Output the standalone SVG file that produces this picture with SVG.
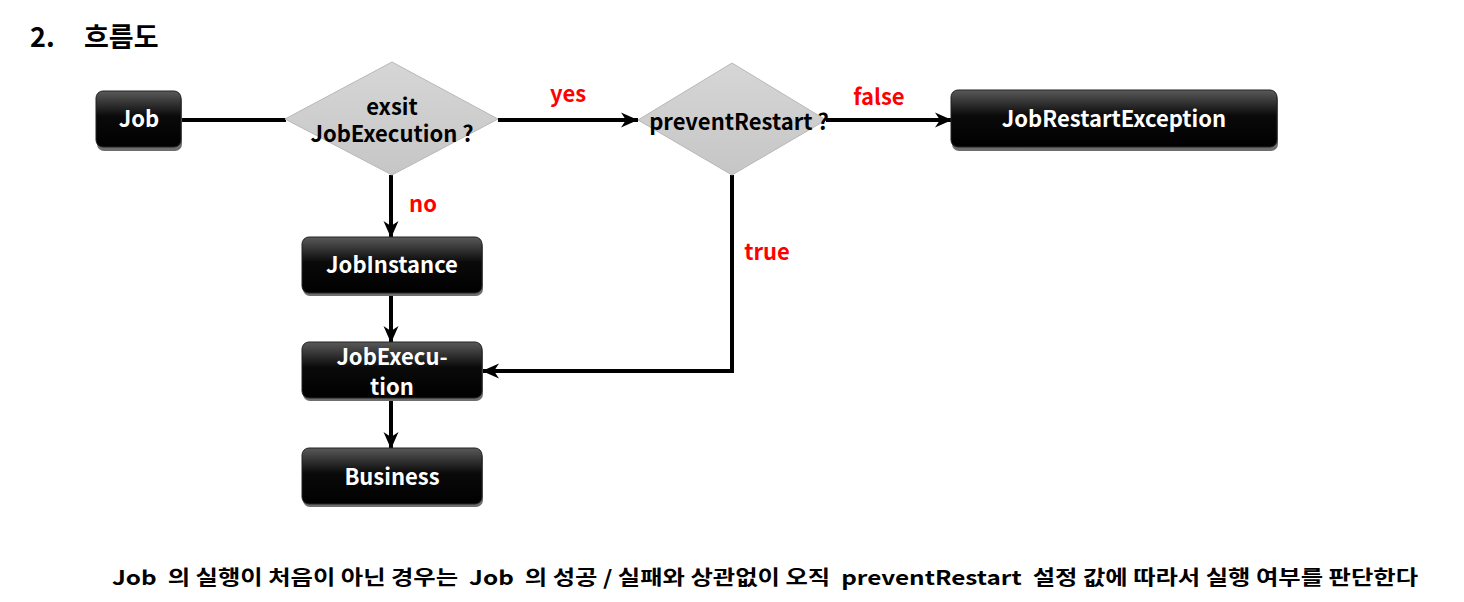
<svg xmlns="http://www.w3.org/2000/svg" width="1464" height="602" viewBox="0 0 1464 602">
<style>
text{font-family:"Noto Sans CJK KR","Noto Sans",sans-serif;font-weight:bold}
.w{fill:#fff;font-size:22px;text-anchor:middle}
.k{fill:#000;font-size:22px;text-anchor:middle}
.r{fill:#f00;font-size:22px;text-anchor:middle}
.box{fill:url(#bg);stroke:#222;stroke-width:1}
.sh{fill:#6e6e6e}
.dia{fill:url(#dg);stroke:#b8b8b8;stroke-width:1}
.ln{fill:none;stroke:#000;stroke-width:4}
</style>
<defs>
<linearGradient id="bg" x1="0" y1="0" x2="0" y2="1">
<stop offset="0" stop-color="#5a5a5a"/>
<stop offset="0.45" stop-color="#0a0a0a"/>
<stop offset="1" stop-color="#000"/>
</linearGradient>
<linearGradient id="dg" x1="0" y1="0" x2="0" y2="1">
<stop offset="0" stop-color="#d6d6d6"/>
<stop offset="1" stop-color="#c6c6c6"/>
</linearGradient>
<marker id="ah" markerUnits="userSpaceOnUse" markerWidth="18" markerHeight="18" viewBox="0 0 18 18" refX="17" refY="9" orient="auto">
<path d="M0,1.5 L17,9 L0,16.5 L5,9 z" fill="#000"/>
</marker>
</defs>

<text x="30" y="47" style="font-size:27px">2.</text>
<text x="84" y="47" style="font-size:27px">흐름도</text>

<g id="connectors">
<line class="ln" x1="181" y1="120" x2="286" y2="120"/>
<line class="ln" x1="498" y1="120" x2="638" y2="120" marker-end="url(#ah)"/>
<line class="ln" x1="826" y1="120" x2="952" y2="120" marker-end="url(#ah)"/>
<line class="ln" x1="391" y1="175" x2="391" y2="238" marker-end="url(#ah)"/>
<line class="ln" x1="391" y1="294" x2="391" y2="343" marker-end="url(#ah)"/>
<line class="ln" x1="391" y1="400" x2="391" y2="449" marker-end="url(#ah)"/>
<polyline class="ln" points="732,175 732,371 482,371" marker-end="url(#ah)"/>
<text class="r" x="568" y="102">yes</text>
<text class="r" x="879" y="105">false</text>
<text class="r" x="423" y="212">no</text>
<text class="r" x="767" y="260">true</text>
</g>

<g id="job">
<rect class="sh" x="97" y="94" width="85" height="57" rx="7"/>
<rect class="box" x="96" y="91" width="85" height="56" rx="7"/>
<text class="w" x="139" y="127">Job</text>
</g>

<g id="exist">
<polygon class="dia" points="392,62 498,119 392,175 285,119"/>
<text class="k"><tspan x="392" y="115">exsit</tspan><tspan x="392" y="142">JobExecution ?</tspan></text>
</g>

<g id="prevent">
<polygon class="dia" points="732,63 826,120 732,175 638,120"/>
<text class="k" x="739" y="130">preventRestart ?</text>
</g>

<g id="jobRestartException">
<rect class="sh" x="952" y="93" width="326" height="58" rx="7"/>
<rect class="box" x="951" y="90" width="326" height="57" rx="7"/>
<text class="w" x="1114" y="127">JobRestartException</text>
</g>

<g id="jobInstance">
<rect class="sh" x="303" y="240" width="180" height="56" rx="7"/>
<rect class="box" x="302" y="237" width="180" height="56" rx="7"/>
<text class="w" x="392" y="273">JobInstance</text>
</g>

<g id="jobExecution">
<rect class="sh" x="303" y="345" width="180" height="56" rx="7"/>
<rect class="box" x="302" y="342" width="180" height="56" rx="7"/>
<text class="w"><tspan x="392" y="365">JobExecu-</tspan><tspan x="392" y="395">tion</tspan></text>
</g>

<g id="business">
<rect class="sh" x="303" y="451" width="180" height="56" rx="7"/>
<rect class="box" x="302" y="448" width="180" height="56" rx="7"/>
<text class="w" x="392" y="485">Business</text>
</g>

<text x="112" y="585" xml:space="preserve" style="font-size:20px" textLength="1306" lengthAdjust="spacingAndGlyphs">Job  의 실행이 처음이 아닌 경우는  Job  의 성공 / 실패와 상관없이 오직  preventRestart  설정 값에 따라서 실행 여부를 판단한다</text>
</svg>
